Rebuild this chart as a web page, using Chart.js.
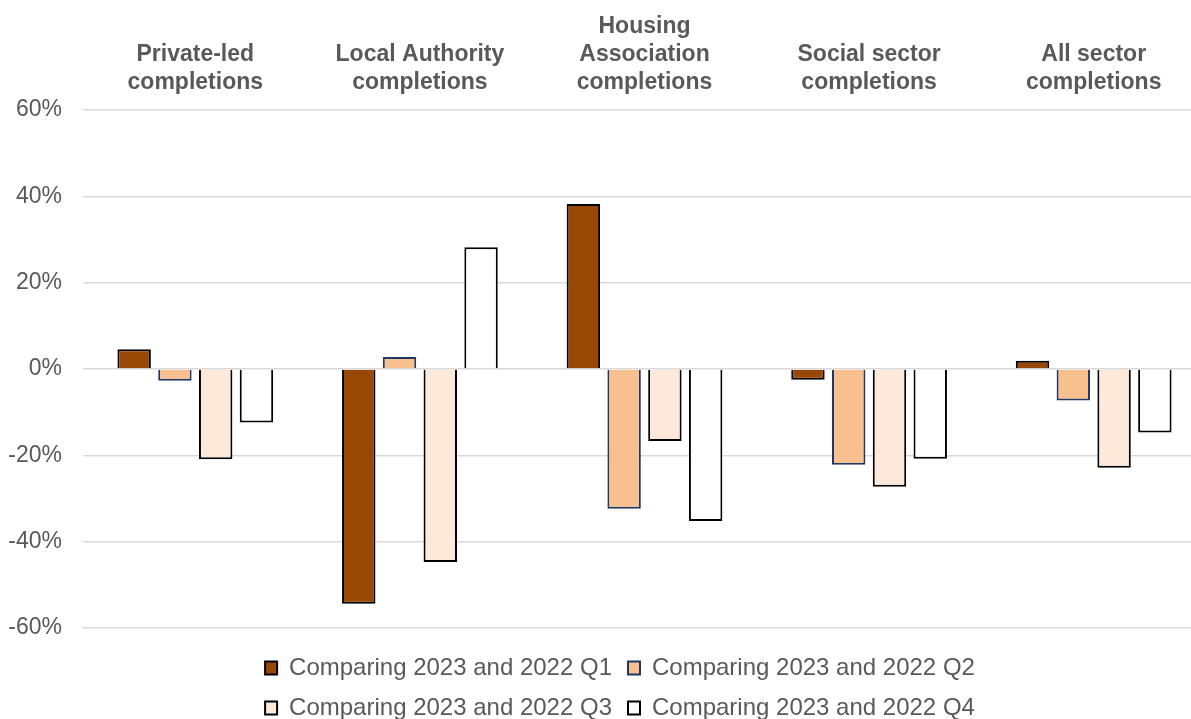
<!DOCTYPE html>
<html>
<head>
<meta charset="utf-8">
<script src="https://cdn.jsdelivr.net/npm/chart.js@4"></script>
<style>
  body { margin: 0; overflow: hidden; background: #fff; }
  #wrap { width: 1206px; height: 730px; }
</style>
</head>
<body>
<div id="wrap"><canvas id="graphCanvas" width="1206" height="730"></canvas></div>
<script>
var categories = [
    ['Private-led', 'completions'],
    ['Local Authority', 'completions'],
    ['Housing', 'Association', 'completions'],
    ['Social sector', 'completions'],
    ['All sector', 'completions']
];
var seriesNames = [
    'Comparing 2023 and 2022 Q1',
    'Comparing 2023 and 2022 Q2',
    'Comparing 2023 and 2022 Q3',
    'Comparing 2023 and 2022 Q4'
];
var q1 = [4.6, -54.4, 38.2, -2.5, 1.9];
var q2 = [-2.7, 2.8, -32.4, -22.2, -7.3];
var q3 = [-20.9, -44.7, -16.7, -27.3, -22.9];
var q4 = [-12.4, 28.2, -35.2, -20.8, -14.7];
var yTicks = [-60, -40, -20, 0, 20, 40, 60];

var textColor = '#595959';
var fontFamily = '"Liberation Sans", Arial, sans-serif';

// legend wraps two items per row like the original, nudged a bit right
var legendRows = {
    id: 'legendRows',
    beforeLayout: function(chart) {
        var lg = chart.legend;
        if (lg && !lg._rowsPatched) {
            var origFit = lg._fitRows;
            lg._fitRows = function() {
                var mw = this.maxWidth;
                this.maxWidth = 800;
                var r = origFit.apply(this, arguments);
                this.maxWidth = mw;
                return r;
            };
            var origDraw = lg._draw;
            lg._draw = function() {
                this.left += 17; this.right += 17;
                origDraw.apply(this, arguments);
                this.left -= 17; this.right -= 17;
            };
            lg._rowsPatched = true;
        }
    }
};

var chartdata = {
    labels: categories,
    datasets: [{
        label: seriesNames[0],
        backgroundColor: '#994705',
        borderColor: '#000000',
        borderWidth: 2,
        data: q1
    },{
        label: seriesNames[1],
        backgroundColor: '#F9C08F',
        borderColor: '#1F3864',
        borderWidth: 2,
        data: q2
    },{
        label: seriesNames[2],
        backgroundColor: '#FDE9D9',
        borderColor: '#000000',
        borderWidth: 2,
        data: q3
    },{
        label: seriesNames[3],
        backgroundColor: '#FFFFFF',
        borderColor: '#000000',
        borderWidth: 2,
        data: q4
    }]
};

var graphTarget = document.getElementById('graphCanvas');

var barGraph = new Chart(graphTarget, {
    type: 'bar',
    data: chartdata,
    plugins: [legendRows],
    options: {
        responsive: false,
        animation: false,
        layout: { padding: 0 },
        datasets: {
            bar: { categoryPercentage: 0.726, barPercentage: 0.82 }
        },
        plugins: {
            tooltip: { enabled: false },
            legend: {
                position: 'bottom',
                title: { display: true, text: '', padding: 0, font: { size: 12, lineHeight: 1 } },
                labels: {
                    boxWidth: 12,
                    boxHeight: 13,
                    padding: 16,
                    color: textColor,
                    font: { family: fontFamily, size: 24 }
                }
            }
        },
        scales: {
            x: {
                position: 'top',
                grid: { display: false, drawTicks: false },
                border: { display: false },
                ticks: {
                    color: textColor,
                    padding: 14,
                    maxRotation: 0,
                    font: { family: fontFamily, size: 23, weight: 'bold', lineHeight: 1.2 }
                },
                afterFit: function(scale) { scale.height = 110; }
            },
            y: {
                min: yTicks[0],
                max: yTicks[yTicks.length - 1],
                afterBuildTicks: function(scale) {
                    scale.ticks = yTicks.map(function(v) { return { value: v }; });
                },
                grid: { color: '#D9D9D9', lineWidth: 1.5, drawTicks: false },
                border: { display: false },
                ticks: {
                    color: textColor,
                    padding: 21,
                    font: { family: fontFamily, size: 23 },
                    callback: function(v) { return v + '%'; }
                },
                afterFit: function(scale) { scale.width = 83; }
            }
        }
    }
});
</script>
</body>
</html>
